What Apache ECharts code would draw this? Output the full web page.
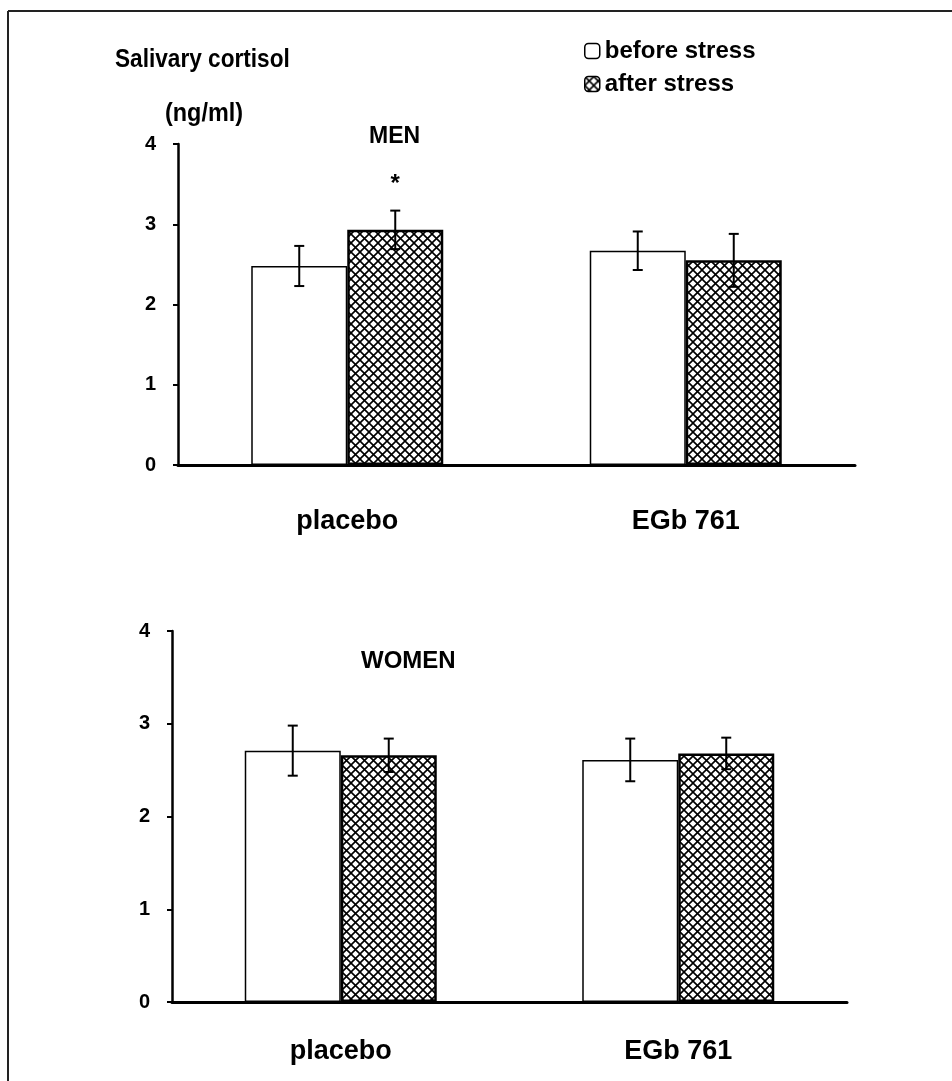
<!DOCTYPE html>
<html>
<head>
<meta charset="utf-8">
<script src="https://cdn.jsdelivr.net/npm/echarts@6/dist/echarts.min.js"></script>
<style>
html,body{margin:0;padding:0;background:#fff;}
#chart{width:952px;height:1081px;}
</style>
</head>
<body>
<div id="chart"></div>
<script>
const categories = ['placebo', 'EGb 761'];
const seriesNames = ['before stress', 'after stress'];
const yTickValues = [0, 1, 2, 3, 4];

const menBefore = [2.48, 2.67];
const menBeforeErr = [0.25, 0.24];
const menAfter = [2.93, 2.55];
const menAfterErr = [0.24, 0.33];
const menSig = ['*', ''];

const womenBefore = [2.71, 2.61];
const womenBeforeErr = [0.27, 0.23];
const womenAfter = [2.66, 2.68];
const womenAfterErr = [0.18, 0.17];
const womenSig = ['', ''];

const FONT = '"Liberation Sans", Arial, Helvetica, sans-serif';
const BAR_W = 96;

function makeHatch() {
  const s = 9;
  const c = document.createElement('canvas');
  c.width = s; c.height = s;
  const g = c.getContext('2d');
  g.fillStyle = '#fff';
  g.fillRect(0, 0, s, s);
  g.strokeStyle = '#000';
  g.lineWidth = 1.6;
  g.beginPath();
  g.moveTo(-1, -1); g.lineTo(s + 1, s + 1);
  g.moveTo(s + 1, -1); g.lineTo(-1, s + 1);
  g.stroke();
  return c;
}
const hatch = { image: makeHatch(), repeat: 'repeat' };

const beforeStyle = { color: '#fff', borderColor: '#000', borderWidth: 1.5 };
const afterStyle = { color: hatch, borderColor: '#000', borderWidth: 2.5 };

function errData(vals, errs, sig) {
  return vals.map((v, i) => ({ value: [i, v - errs[i], v + errs[i]], sig: sig ? sig[i] : '' }));
}

function errSeries(gi, vals, errs, offset, sig) {
  const data = errData(vals, errs, sig);
  return {
    type: 'custom',
    xAxisIndex: gi, yAxisIndex: gi,
    z: 10,
    silent: true,
    data: data.map(d => d.value),
    renderItem: function (params, api) {
      const idx = api.value(0);
      const lo = api.coord([idx, api.value(1)]);
      const hi = api.coord([idx, api.value(2)]);
      const x = lo[0] + offset;
      const cap = 5;
      const st = { stroke: '#000', lineWidth: 2 };
      const children = [
        { type: 'line', shape: { x1: x, y1: lo[1], x2: x, y2: hi[1] }, style: st },
        { type: 'line', shape: { x1: x - cap, y1: hi[1], x2: x + cap, y2: hi[1] }, style: st },
        { type: 'line', shape: { x1: x - cap, y1: lo[1], x2: x + cap, y2: lo[1] }, style: st }
      ];
      const s = data[params.dataIndex].sig;
      if (s) {
        children.push({ type: 'text', style: { x: x, y: hi[1] - 26, text: s, fill: '#000',
          font: 'bold 24px ' + FONT, textAlign: 'center', textVerticalAlign: 'middle' } });
      }
      return { type: 'group', children: children };
    }
  };
}

const grids = [
  { left: 178, right: 97, top: 144, height: 321 },
  { left: 172, right: 105, top: 631, height: 371 }
];

function xAxis(gi, margin) {
  return {
    type: 'category', gridIndex: gi, data: categories,
    axisLine: { lineStyle: { color: '#000', width: 3 } },
    axisTick: { show: false },
    axisLabel: { color: '#000', fontFamily: FONT, fontWeight: 'bold', fontSize: 27, margin: margin }
  };
}
function yAxis(gi) {
  return {
    type: 'value', gridIndex: gi, min: yTickValues[0], max: yTickValues[yTickValues.length - 1], interval: 1,
    axisLine: { show: true, lineStyle: { color: '#000', width: 2.5 } },
    axisTick: { show: true, length: 5, lineStyle: { color: '#000', width: 2 } },
    splitLine: { show: false },
    axisLabel: { color: '#000', fontFamily: FONT, fontWeight: 'bold', fontSize: 20, margin: 22 }
  };
}

function barSeries(gi, name, vals, style) {
  return {
    type: 'bar', name: name, xAxisIndex: gi, yAxisIndex: gi,
    data: vals, barWidth: BAR_W, barGap: '0%',
    itemStyle: style, silent: true
  };
}

const chart = echarts.init(document.getElementById('chart'), null, { renderer: 'canvas' });
chart.setOption({
  animation: false,
  backgroundColor: '#fff',
  grid: grids,
  xAxis: [xAxis(0, 43), xAxis(1, 36)],
  yAxis: [yAxis(0), yAxis(1)],
  legend: {
    orient: 'vertical', left: 579, top: 34, itemGap: 9,
    itemWidth: 15, itemHeight: 15, icon: 'roundRect',
    textStyle: { color: '#000', fontFamily: FONT, fontWeight: 'bold', fontSize: 24 },
    data: [
      { name: seriesNames[0], itemStyle: { color: '#fff', borderColor: '#000', borderWidth: 1.5 } },
      { name: seriesNames[1], itemStyle: { color: hatch, borderColor: '#000', borderWidth: 1.5 } }
    ]
  },
  graphic: [
    { type: 'line', shape: { x1: 8, y1: 11, x2: 952, y2: 11 }, style: { stroke: '#222', lineWidth: 2 } },
    { type: 'line', shape: { x1: 8, y1: 11, x2: 8, y2: 1081 }, style: { stroke: '#222', lineWidth: 2 } },
    { type: 'text', x: 115, y: 47, scaleX: 0.87, style: { text: 'Salivary cortisol', fill: '#000', font: 'bold 26px ' + FONT } },
    { type: 'text', x: 165, y: 101, scaleX: 0.9, style: { text: '(ng/ml)', fill: '#000', font: 'bold 26px ' + FONT } },
    { type: 'text', left: 369, top: 125, style: { text: 'MEN', fill: '#000', font: 'bold 23px ' + FONT } },
    { type: 'text', left: 361, top: 649, style: { text: 'WOMEN', fill: '#000', font: 'bold 24px ' + FONT } }
  ],
  series: [
    barSeries(0, seriesNames[0], menBefore, beforeStyle),
    barSeries(0, seriesNames[1], menAfter, afterStyle),
    barSeries(1, seriesNames[0], womenBefore, beforeStyle),
    barSeries(1, seriesNames[1], womenAfter, afterStyle),
    errSeries(0, menBefore, menBeforeErr, -BAR_W / 2, null),
    errSeries(0, menAfter, menAfterErr, BAR_W / 2, menSig),
    errSeries(1, womenBefore, womenBeforeErr, -BAR_W / 2, null),
    errSeries(1, womenAfter, womenAfterErr, BAR_W / 2, womenSig)
  ]
});
</script>
</body>
</html>
